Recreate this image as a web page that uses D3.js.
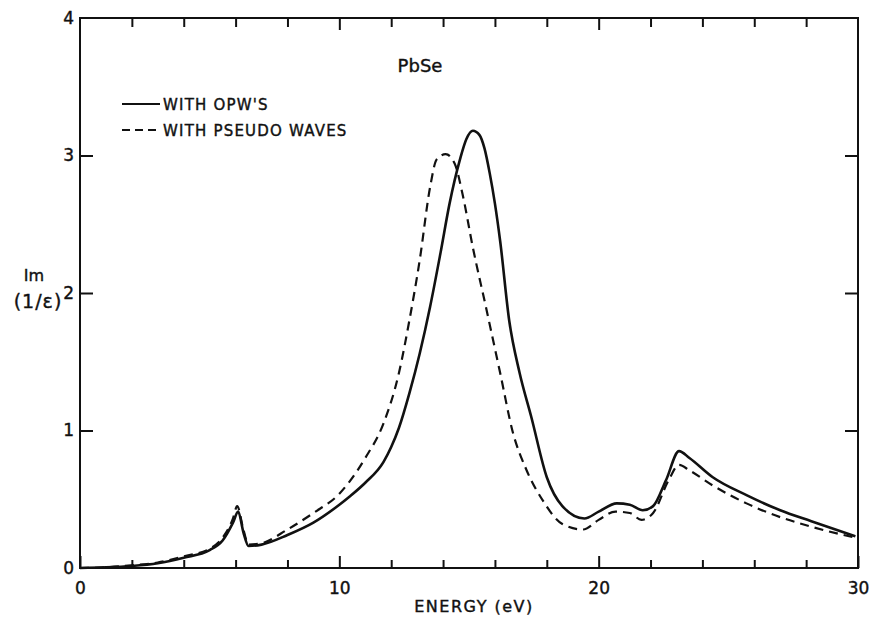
<!DOCTYPE html>
<html><head><meta charset="utf-8">
<script src="https://cdn.jsdelivr.net/npm/d3@7"></script>
<style>
body{margin:0;background:#fff;}
text{font-family:"DejaVu Sans",sans-serif;fill:#111;stroke:#111;stroke-width:0.4px;}
</style></head>
<body>
<svg id="chart" width="869" height="617"></svg>
<script>
// ---- data ----
const energyOPW = [0,1,2,3,4,5,5.5,5.9,6.1,6.3,6.5,7,8,9,10,10.4,11,11.7,12.0,12.3,12.7,13.1,13.5,13.9,14.25,14.65,14.9,15.15,15.4,15.6,15.8,16.0,16.2,16.55,16.95,17.4,18.0,18.6,19.45,20.0,20.7,21.2,21.7,22.1,22.6,23.1,23.5,24.4,25.7,27,28.2,29.9];
const imOPW     = [0,0.005,0.015,0.035,0.075,0.13,0.2,0.33,0.41,0.26,0.16,0.17,0.24,0.33,0.46,0.52,0.62,0.77,0.88,1.02,1.27,1.56,1.90,2.29,2.65,2.97,3.12,3.18,3.15,3.05,2.87,2.65,2.38,1.80,1.42,1.10,0.66,0.45,0.36,0.41,0.47,0.46,0.42,0.45,0.64,0.85,0.80,0.66,0.53,0.42,0.34,0.23];
const energyPW  = [0,1,2,3,4,5,5.5,5.9,6.06,6.3,6.5,7,8,9,10,10.4,11,11.7,12.3,12.7,13.1,13.5,13.75,14.1,14.45,14.75,15.15,15.65,16.2,16.7,17.2,17.85,18.6,19.4,20.0,20.65,21.2,21.65,22.1,22.7,23.1,23.5,24.4,25.7,27,28.2,29.9];
const imPW      = [0,0.005,0.02,0.04,0.085,0.14,0.22,0.36,0.45,0.28,0.17,0.18,0.28,0.40,0.54,0.63,0.80,1.05,1.42,1.80,2.24,2.77,2.97,3.01,2.94,2.72,2.33,1.90,1.42,0.98,0.72,0.49,0.32,0.28,0.35,0.41,0.40,0.35,0.40,0.64,0.75,0.71,0.60,0.47,0.37,0.30,0.22];
const xMajorTicks = [0,10,20,30];
const xMinorTicks = [2,4,6,8,12,14,16,18,22,24,26,28];
const yTicks = [0,1,2,3,4];
const seriesNames = ["WITH OPW'S","WITH PSEUDO WAVES"];

// ---- layout ----
const svg = d3.select("#chart");
const L=80, R=858, T=18, B=568;
const x = d3.scaleLinear().domain([0,30]).range([L,R]);
const y = d3.scaleLinear().domain([0,4]).range([B,T]);

// frame
svg.append("rect").attr("x",L).attr("y",T).attr("width",R-L).attr("height",B-T)
  .attr("fill","none").attr("stroke","#111").attr("stroke-width",2);

function styleAxis(g){ g.select(".domain").remove(); g.selectAll("line").attr("stroke","#111").attr("stroke-width",2); }
function styleText(g){ g.selectAll("text").attr("font-size",17).attr("font-family","DejaVu Sans").attr("fill","#111").attr("stroke","#111").attr("stroke-width",0.6); }

// bottom axis (inward ticks)
svg.append("g").attr("transform",`translate(0,${B})`)
  .call(d3.axisBottom(x).tickValues(xMinorTicks).tickSize(-8).tickFormat(""))
  .call(styleAxis);
svg.append("g").attr("transform",`translate(0,${B})`)
  .call(d3.axisBottom(x).tickValues(xMajorTicks).tickSizeInner(-12).tickSizeOuter(0).tickPadding(14).tickFormat(d3.format("d")))
  .call(styleAxis).call(styleText);
// top axis
svg.append("g").attr("transform",`translate(0,${T})`)
  .call(d3.axisTop(x).tickValues(xMinorTicks).tickSize(-9).tickFormat(""))
  .call(styleAxis);
svg.append("g").attr("transform",`translate(0,${T})`)
  .call(d3.axisTop(x).tickValues(xMajorTicks.slice(1,3)).tickSize(-12).tickFormat(""))
  .call(styleAxis);
// left axis
svg.append("g").attr("transform",`translate(${L},0)`)
  .call(d3.axisLeft(y).tickValues(yTicks).tickSizeInner(-13).tickSizeOuter(0).tickPadding(7).tickFormat(d3.format("d")))
  .call(styleAxis)
  .call(g=>g.selectAll(".tick").filter(d=>d===0||d===4).select("line").remove())
  .call(styleText)
  .call(g=>g.selectAll("text").attr("x",-6));
// right axis
svg.append("g").attr("transform",`translate(${R},0)`)
  .call(d3.axisRight(y).tickValues(yTicks.slice(1,4)).tickSize(-13).tickFormat(""))
  .call(styleAxis);

// curves
const lineOPW = d3.line().x((d,i)=>x(energyOPW[i])).y(d=>y(d)).curve(d3.curveMonotoneX);
const linePW  = d3.line().x((d,i)=>x(energyPW[i])).y(d=>y(d)).curve(d3.curveMonotoneX);
svg.append("path").datum(imOPW).attr("d",lineOPW).attr("fill","none").attr("stroke","#111").attr("stroke-width",2.6).attr("stroke-linejoin","round");
svg.append("path").datum(imPW).attr("d",linePW).attr("fill","none").attr("stroke","#111").attr("stroke-width",2.2).attr("stroke-dasharray","9,6");

// title
svg.append("text").attr("x",420).attr("y",72).attr("text-anchor","middle").attr("font-size",18).text("PbSe");

// legend
const lg = svg.append("g");
[0,1].forEach(i=>{
  const yy = 104 + i*26;
  lg.append("line").attr("x1",122).attr("x2",160).attr("y1",yy).attr("y2",yy)
    .attr("stroke","#111").attr("stroke-width",2.2).attr("stroke-dasharray", i===1?"8,5":null);
  lg.append("text").attr("x",163).attr("y",yy+6).attr("font-size",15).attr("letter-spacing",1.2).text(seriesNames[i]);
});

// axis labels
svg.append("text").attr("x",34).attr("y",281).attr("text-anchor","middle").attr("font-size",16).text("Im");
svg.append("text").attr("x",38).attr("y",308).attr("text-anchor","middle").attr("font-size",19).attr("letter-spacing",1).text("(1/ε)");
svg.append("text").attr("x",474).attr("y",612).attr("text-anchor","middle").attr("font-size",16).attr("letter-spacing",1.5).text("ENERGY (eV)");
</script>
</body></html>
